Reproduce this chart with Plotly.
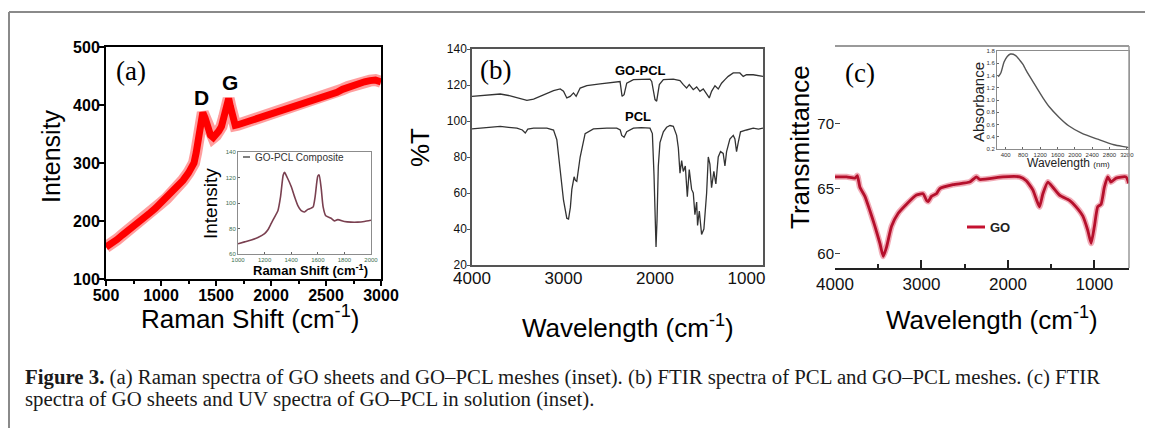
import plotly.graph_objects as go

W, H = 1153, 428
OFF = 8  # the page body adds an 8px margin; draw in reference pixel coordinates

# ---------------- data ----------------
# (a) Raman spectrum of GO sheets
raman_x = [500, 550, 600, 650, 700, 750, 800, 850, 900, 950, 1000, 1050, 1100, 1150, 1200,
           1250, 1300, 1320, 1340, 1360, 1380, 1400, 1425, 1450, 1475, 1500, 1525, 1550, 1575,
           1600, 1615, 1630, 1650, 1675, 1700, 1750, 1800, 1850, 1900, 1950, 2000, 2050, 2100,
           2150, 2200, 2250, 2300, 2350, 2400, 2450, 2500, 2550, 2600, 2650, 2700, 2750, 2800,
           2850, 2900, 2950, 3000]
raman_y = [155, 160, 168, 176, 183, 190, 198, 205, 214, 222, 231, 239, 248, 258, 270,
           283, 300, 318, 345, 375, 387, 378, 360, 348, 344, 348, 355, 363, 380,
           405, 411, 398, 378, 365, 366, 369, 371, 374, 377, 380, 383, 386, 389,
           392, 395, 398, 401, 404, 407, 411, 414, 418, 422, 427, 431, 435, 438,
           440, 442, 443, 440]

# (a) inset: GO-PCL composite Raman
ins_a_x = [1000, 1050, 1100, 1150, 1200, 1225, 1250, 1275, 1300, 1320, 1340, 1350, 1370, 1400,
           1425, 1450, 1475, 1500, 1525, 1550, 1565, 1580, 1600, 1610, 1625, 1640, 1660, 1700,
           1725, 1750, 1800, 1850, 1900, 1950, 2000]
ins_a_y = [68, 69.5, 71, 73, 76, 79, 84, 89, 94, 105, 122, 124, 120, 113,
           105, 98, 94, 93, 95, 96, 97, 105, 121, 122, 112, 97, 90, 88,
           86, 87, 85.5, 85, 85, 85.5, 86.5]

# (b) FTIR of PCL
pcl_x = [4000, 3900, 3800, 3691, 3600, 3509, 3450, 3418, 3390, 3327, 3182, 3109, 3073, 3036,
         3000, 2964, 2945, 2925, 2909, 2884, 2870, 2855, 2818, 2764, 2673, 2527, 2418, 2380,
         2364, 2338, 2309, 2236, 2150, 2055, 2029, 2011, 2000, 1989, 1978, 1964, 1946, 1909,
         1873, 1836, 1800, 1764, 1745, 1727, 1709, 1691, 1669, 1647, 1626, 1600, 1582, 1564,
         1545, 1535, 1516, 1491, 1466, 1436, 1418, 1400, 1382, 1357, 1335, 1309, 1284, 1255,
         1236, 1218, 1182, 1145, 1127, 1109, 1091, 1066, 1000, 927, 870, 820]
pcl_y = [95.6, 96, 96.5, 97, 96.5, 96, 95, 93.3, 95.5, 96, 96, 95, 89.6, 73,
         56, 46, 45.5, 52, 62, 69, 67, 66.5, 80, 93, 95.6, 96, 96, 95,
         92, 91, 94, 96, 96.3, 96, 93, 70, 40, 30, 45, 75, 88, 94,
         96.5, 97.5, 97, 92, 85, 71, 78, 72, 75, 58, 73, 62, 60, 48,
         55, 42, 50, 37, 40, 60, 80, 76, 63, 72, 65, 80, 83, 82,
         75, 83, 90, 92, 90, 83, 88, 94, 95, 96, 95.5, 96]

# (b) FTIR of GO-PCL
gopcl_x = [4000, 3873, 3764, 3691, 3582, 3473, 3400, 3327, 3218, 3109, 3036, 3000, 2964, 2927,
           2891, 2862, 2818, 2745, 2600, 2455, 2382, 2360, 2338, 2309, 2236, 2055, 2036, 2000,
           1982, 1953, 1909, 1800, 1727, 1691, 1655, 1626, 1582, 1545, 1509, 1473, 1436, 1407,
           1382, 1345, 1309, 1273, 1236, 1200, 1145, 1073, 1036, 1000, 927, 820]
gopcl_y = [113.7, 114.2, 114.6, 115, 114, 112.4, 111.5, 112.2, 114.6, 116.9, 117.8, 116.5, 112.8, 113.7,
           115.6, 113.7, 118.3, 119.6, 120.6, 121.5, 121.9, 113.7, 114.6, 121, 123, 123.3, 122, 111.9,
           111, 120.2, 123, 123.3, 122.4, 120.2, 118.3, 120.2, 117.4, 118.9, 116.5, 117.8, 114.6, 112.8,
           116.5, 119.6, 117.8, 121, 123, 124.8, 126.7, 126.7, 124.8, 125.7, 125.7, 124.8]

# (c) FTIR of GO sheets
go_x = [4000, 3865, 3769, 3742, 3712, 3654, 3596, 3538, 3481, 3442, 3404, 3346, 3269, 3173,
        3058, 2981, 2942, 2923, 2885, 2827, 2788, 2635, 2442, 2365, 2327, 2058, 1865, 1788,
        1712, 1673, 1635, 1596, 1538, 1481, 1404, 1288, 1212, 1135, 1077, 1038, 1000, 962,
        923, 885, 846, 808, 750, 635, 604]
go_y = [65.9, 65.9, 65.8, 66.0, 65.1, 64.4, 63.3, 62.1, 60.8, 59.8, 60.5, 62.1, 63.1, 63.8,
        64.5, 64.6, 64.1, 64.0, 64.4, 64.6, 65.0, 65.3, 65.5, 65.9, 65.7, 65.9, 65.9, 65.6,
        64.9, 64.2, 63.6, 64.6, 65.5, 65.1, 64.5, 64.1, 63.6, 62.9, 61.8, 60.8, 62.1, 63.6,
        63.8, 65.1, 65.9, 65.5, 65.8, 65.9, 65.4]

# (c) inset: UV absorbance of GO-PCL
uv_x = [228, 288, 363, 437, 512, 624, 736, 800, 825, 860, 960, 1109, 1258, 1407, 1631,
        1855, 2154, 2527, 2900, 3198, 3240]
uv_y = [1.38, 1.44, 1.62, 1.71, 1.75, 1.73, 1.64, 1.58, 1.55, 1.50, 1.38, 1.21, 1.04, 0.89, 0.72,
        0.58, 0.46, 0.36, 0.27, 0.23, 0.22]

caption1 = ("<b>Figure 3.</b> (a) Raman spectra of GO sheets and GO–PCL meshes (inset). "
            "(b) FTIR spectra of PCL and GO–PCL meshes. (c) FTIR")
caption2 = "spectra of GO sheets and UV spectra of GO–PCL in solution (inset)."

# ---------------- helpers ----------------
FW, FH = W - OFF, H - OFF


def px(x):
    return (x - OFF) / FW


def py(y):
    return 1 - (y - OFF) / FH


def dom_x(a, b):
    return [px(a), px(b)]


def dom_y(top, bottom):
    return [py(bottom), py(top)]


SANS = "Liberation Sans"
SERIF = "Liberation Serif"

fig = go.Figure()

# (a) main
fig.add_trace(go.Scatter(x=raman_x, y=raman_y, mode="lines", xaxis="x", yaxis="y",
                         line=dict(color="rgba(255,40,40,0.45)", width=12), hoverinfo="skip"))
fig.add_trace(go.Scatter(x=raman_x, y=raman_y, mode="lines", xaxis="x", yaxis="y",
                         line=dict(color="#ff0000", width=7)))
# (a) inset
fig.add_trace(go.Scatter(x=ins_a_x, y=ins_a_y, mode="lines", xaxis="x2", yaxis="y2",
                         line=dict(color="#7a4050", width=1.6, shape="spline", smoothing=0.6)))
# (b)
fig.add_trace(go.Scatter(x=gopcl_x, y=gopcl_y, mode="lines", xaxis="x3", yaxis="y3",
                         line=dict(color="#333333", width=1.3)))
fig.add_trace(go.Scatter(x=pcl_x, y=pcl_y, mode="lines", xaxis="x3", yaxis="y3",
                         line=dict(color="#333333", width=1.3)))
# (c)
fig.add_trace(go.Scatter(x=go_x, y=go_y, mode="lines", xaxis="x4", yaxis="y4",
                         line=dict(color="rgba(225,70,95,0.45)", width=6, shape="spline", smoothing=0.5),
                         hoverinfo="skip"))
fig.add_trace(go.Scatter(x=go_x, y=go_y, mode="lines", xaxis="x4", yaxis="y4",
                         line=dict(color="#b5102c", width=2.8, shape="spline", smoothing=0.5)))
# (c) inset
fig.add_trace(go.Scatter(x=uv_x, y=uv_y, mode="lines", xaxis="x5", yaxis="y5",
                         line=dict(color="#555555", width=1.4, shape="spline", smoothing=0.8)))

bold16 = dict(family=SANS, size=16, color="black", weight="bold")

layout_axes = dict(
    # (a)
    xaxis=dict(domain=dom_x(106, 381), anchor="y", range=[500, 3000], tickvals=[500, 1000, 1500, 2000, 2500, 3000],
               ticks="outside", ticklen=5, tickwidth=1.5, tickcolor="black", ticklabelstandoff=-4,
               minor=dict(tickvals=[750, 1250, 1750, 2250, 2750], ticks="outside", ticklen=3, tickcolor="black"),
               showline=True, mirror=True, linecolor="black", linewidth=2,
               showgrid=False, zeroline=False, tickfont=bold16),
    yaxis=dict(domain=dom_y(47, 279), anchor="x", range=[100, 500], tickvals=[100, 200, 300, 400, 500],
               ticks="outside", ticklen=5, tickwidth=1.5, tickcolor="black", ticklabelstandoff=-4,
               showline=True, mirror=True, linecolor="black", linewidth=2,
               showgrid=False, zeroline=False, tickfont=bold16),
    # (a) inset
    xaxis2=dict(domain=dom_x(238, 371), anchor="y2", range=[1000, 2000],
                tickvals=[1000, 1200, 1400, 1600, 1800, 2000], ticks="inside", ticklen=2,
                tickcolor="#666", showline=True, mirror=True, linecolor="#8c8c8c", linewidth=1,
                showgrid=False, zeroline=False, ticklabelstandoff=0,
                tickfont=dict(family=SANS, size=6, color="#3b6e4f")),
    yaxis2=dict(domain=dom_y(152, 254), anchor="x2", range=[60, 140],
                tickvals=[60, 80, 100, 120, 140], ticks="inside", ticklen=2,
                tickcolor="#666", showline=True, mirror=True, linecolor="#8c8c8c", linewidth=1,
                showgrid=False, zeroline=False,
                tickfont=dict(family=SANS, size=6, color="#3b6e4f")),
    # (b)
    xaxis3=dict(domain=dom_x(472, 763), anchor="y3", range=[4000, 820],
                tickvals=[4000, 3000, 2000, 1000], ticks="", ticklabelstandoff=-3,
                showline=True, mirror=True, linecolor="#555", linewidth=1.5,
                showgrid=False, zeroline=False,
                tickfont=dict(family=SANS, size=17, color="#111")),
    yaxis3=dict(domain=dom_y(49, 265), anchor="x3", range=[20, 140],
                tickvals=[20, 40, 60, 80, 100, 120, 140], ticks="outside", ticklen=3, tickcolor="#555",
                ticklabelstandoff=-2,
                showline=True, mirror=True, linecolor="#555", linewidth=1.5,
                showgrid=False, zeroline=False,
                tickfont=dict(family=SANS, size=12, color="#111")),
    # (c)
    xaxis4=dict(domain=dom_x(835, 1129), anchor="y4", range=[4000, 600],
                tickvals=[4000, 3000, 2000, 1000], ticks="inside", ticklen=8, tickwidth=1.5, tickcolor="#222",
                minor=dict(tickvals=[3500, 2500, 1500], ticks="inside", ticklen=4, tickcolor="#222"),
                showline=True, mirror=False, linecolor="#222", linewidth=1.5,
                showgrid=False, zeroline=False,
                tickfont=dict(family=SANS, size=17, color="#111")),
    yaxis4=dict(domain=dom_y(46, 268), anchor="x4", range=[58.9, 75.95],
                tickvals=[60, 65, 70], ticks="inside", ticklen=5, tickcolor="#444",
                showline=False, showgrid=False, zeroline=False,
                tickfont=dict(family=SANS, size=15, color="#111")),
    # (c) inset
    xaxis5=dict(domain=dom_x(997, 1129), anchor="y5", range=[200, 3250],
                tickvals=[400, 800, 1200, 1600, 2000, 2400, 2800, 3200], ticks="inside", ticklen=2,
                tickcolor="#666", showline=True, mirror=True, linecolor="#8c8c8c", linewidth=1,
                showgrid=False, zeroline=False, ticklabelstandoff=0,
                tickfont=dict(family=SANS, size=6, color="#333")),
    yaxis5=dict(domain=dom_y(51, 149), anchor="x5", range=[0.2, 1.8],
                tickvals=[0.2, 0.4, 0.6, 0.8, 1.0, 1.2, 1.4, 1.6, 1.8], tickformat=".1f",
                ticks="inside", ticklen=2, tickcolor="#666",
                showline=True, mirror=True, linecolor="#8c8c8c", linewidth=1,
                showgrid=False, zeroline=False,
                tickfont=dict(family=SANS, size=6, color="#333")),
)
for k in layout_axes:
    layout_axes[k]["automargin"] = False


def ann(x, y, text, size, family=SANS, angle=0, xanchor="center", color="black", bold=False):
    return dict(x=px(x), y=py(y), xref="paper", yref="paper", text=text, showarrow=False,
                textangle=angle, xanchor=xanchor, yanchor="middle",
                font=dict(family=family, size=size, color=color, weight="bold" if bold else "normal"))


annotations = [
    # (a)
    ann(51, 156, "Intensity", 25, angle=-90),
    ann(250, 317, "Raman Shift (cm<sup>-1</sup>)", 26),
    ann(131, 71, "(a)", 27, family=SERIF),
    ann(201, 97, "D", 21, bold=True),
    ann(230, 82, "G", 21, bold=True),
    ann(210, 204, "Intensity", 19, angle=-90),
    ann(310, 270, "Raman Shift (cm<sup>-1</sup>)", 13, bold=True),
    ann(253, 157, "GO-PCL Composite", 10, xanchor="left", color="#333"),
    # (b)
    ann(420, 147, "%T", 26, angle=-90),
    ann(628, 326, "Wavelength (cm<sup>-1</sup>)", 26),
    ann(496, 70, "(b)", 27, family=SERIF),
    ann(640, 70, "GO-PCL", 13, bold=True),
    ann(638, 117, "PCL", 13, bold=True),
    # (c)
    ann(800, 147, "Transmittance", 26, angle=-90),
    ann(992, 318, "Wavelength (cm<sup>-1</sup>)", 26),
    ann(860, 73, "(c)", 27, family=SERIF),
    ann(988, 227, "GO", 13, xanchor="left", bold=True, color="#222"),
    ann(979, 102, "Absorbance", 15, angle=-90, color="#222"),
    ann(1068, 163, "Wavelength <span style='font-size:8px'>(nm)</span>", 12, color="#222"),
    # caption
    ann(23, 377, caption1, 20.8, family=SERIF, xanchor="left", color="#1a1a1a"),
    ann(23, 399, caption2, 20.8, family=SERIF, xanchor="left", color="#1a1a1a"),
]

shapes = [
    # outer frame
    dict(type="line", xref="paper", yref="paper", x0=px(9), x1=px(1153), y0=py(12), y1=py(12),
         line=dict(color="#8a8a8a", width=2)),
    dict(type="line", xref="paper", yref="paper", x0=px(9), x1=px(9), y0=py(12), y1=py(428),
         line=dict(color="#8a8a8a", width=2)),
    # (c) top and right frame
    dict(type="line", xref="paper", yref="paper", x0=px(835), x1=px(1129), y0=py(46), y1=py(46),
         line=dict(color="#9a9a9a", width=2)),
    dict(type="line", xref="paper", yref="paper", x0=px(1129), x1=px(1129), y0=py(46), y1=py(268),
         line=dict(color="#9a9a9a", width=1.5)),
    # inset legends
    dict(type="line", xref="paper", yref="paper", x0=px(243), x1=px(250), y0=py(157), y1=py(157),
         line=dict(color="#555", width=1.5)),
    dict(type="line", xref="paper", yref="paper", x0=px(967), x1=px(985), y0=py(227), y1=py(227),
         line=dict(color="#c41230", width=3)),
]

fig.update_layout(
    width=FW, height=FH, margin=dict(l=0, r=0, t=0, b=0, autoexpand=False),
    paper_bgcolor="white", plot_bgcolor="white", showlegend=False,
    font=dict(family=SANS, color="black"),
    annotations=annotations, shapes=shapes, **layout_axes,
)

fig.write_html("out.html")
